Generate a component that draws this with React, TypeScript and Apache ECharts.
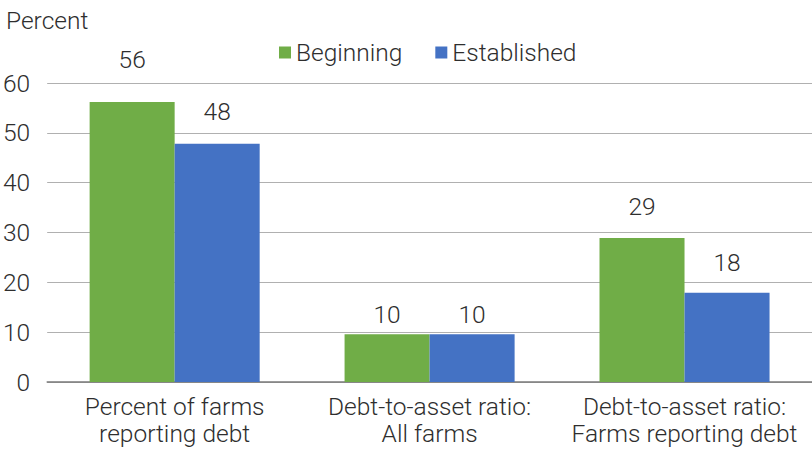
import React, { useEffect, useRef } from "react";
import * as echarts from "echarts";

const categories = ["Percent of farms\nreporting debt", "Debt-to-asset ratio:\nAll farms", "Debt-to-asset ratio:\nFarms reporting debt"];
const beginning = [56.2, 9.6, 28.9];
const established = [47.8, 9.6, 17.9];
const seriesNames = ["Beginning", "Established"];

// label spacing above bars (style, not data)
const beginningLabelGap = [30, 7, 19];
const establishedLabelGap = [20, 7, 18];

const FONT = "Roboto";
const FW = 300;
const TXT = "#2e2e2e";
const FS = 24.5;

function makeLabel(distance: number) {
  return {
    show: true,
    position: "top" as const,
    distance,
    color: TXT,
    fontFamily: FONT,
    fontWeight: FW,
    fontSize: FS,
    formatter: (p: any) => String(Math.round(p.value)),
  };
}

export default function App() {
  const ref = useRef<HTMLDivElement>(null);
  useEffect(() => {
    const chart = echarts.init(ref.current!, null, { renderer: "svg" });
    chart.setOption({
      animation: false,
      textStyle: { fontFamily: FONT, fontWeight: FW, color: TXT },
      title: {
        text: "Percent",
        left: 1,
        top: 3,
        textStyle: { fontFamily: FONT, fontWeight: FW, fontSize: FS, color: TXT },
      },
      legend: {
        data: seriesNames,
        left: 274,
        top: 35,
        itemWidth: 12,
        itemHeight: 12,
        itemGap: 33,
        icon: "rect",
        textStyle: { fontFamily: FONT, fontWeight: FW, fontSize: FS, color: TXT, padding: [0, 0, 0, 0] },
      },
      grid: { left: 47, right: 0, top: 83, bottom: 68, containLabel: false },
      xAxis: {
        type: "category",
        data: categories,
        axisTick: { show: false },
        axisLine: { lineStyle: { color: "#7a7a7a", width: 1.5 } },
        axisLabel: {
          color: TXT,
          fontFamily: FONT,
          fontWeight: FW,
          fontSize: FS,
          lineHeight: 27,
          margin: 11,
          interval: 0,
        },
      },
      yAxis: {
        type: "value",
        min: 0,
        max: 60,
        interval: 10,
        axisLine: { show: false },
        axisTick: { show: false },
        splitLine: { lineStyle: { color: "#b0b0b0", width: 1 } },
        axisLabel: { color: TXT, fontFamily: FONT, fontWeight: FW, fontSize: FS, margin: 17 },
      },
      series: [
        {
          name: seriesNames[0],
          type: "bar",
          data: beginning.map((v, i) => ({ value: v, label: makeLabel(beginningLabelGap[i]) })),
          barGap: "0%",
          barCategoryGap: "33.3%",
          itemStyle: { color: "#70AD47" },
        },
        {
          name: seriesNames[1],
          type: "bar",
          data: established.map((v, i) => ({ value: v, label: makeLabel(establishedLabelGap[i]) })),
          itemStyle: { color: "#4472C4" },
        },
      ],
    });
    return () => chart.dispose();
  }, []);
  return (
    <div
      ref={ref}
      style={{ position: "absolute", left: 0, top: 0, width: 812, height: 450, background: "#fff" }}
    />
  );
}
